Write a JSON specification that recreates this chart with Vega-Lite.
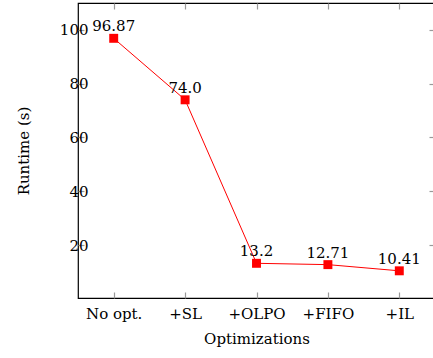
{
  "$schema": "https://vega.github.io/schema/vega-lite/v6.json",
  "autosize": "none",
  "padding": {"left": 78, "top": 3, "right": 0, "bottom": 60},
  "width": 357,
  "height": 295,
  "data": {"values": [
    {"opt": "No opt.", "runtime": 96.87, "label": "96.87"},
    {"opt": "+SL", "runtime": 74.0, "label": "74.0"},
    {"opt": "+OLPO", "runtime": 13.2, "label": "13.2"},
    {"opt": "+FIFO", "runtime": 12.71, "label": "12.71"},
    {"opt": "+IL", "runtime": 10.41, "label": "10.41"}
  ]},
  "config": {
    "view": {"stroke": "black", "strokeWidth": 1.2},
    "font": "DejaVu Serif",
    "axis": {
      "domain": false, "grid": false,
      "labelFont": "DejaVu Serif", "labelFontSize": 15, "labelColor": "black",
      "titleFont": "DejaVu Serif", "titleFontSize": 15, "titleFontWeight": "normal", "titleColor": "black",
      "tickColor": "#999", "tickWidth": 1.2, "tickSize": -6
    }
  },
  "layer": [
    {
      "mark": {"type": "line", "color": "#ff0000", "strokeWidth": 1},
      "encoding": {
        "x": {"field": "opt", "type": "nominal", "sort": null, "scale": {"type": "point", "padding": 0.5},
              "axis": {"orient": "bottom", "labelAngle": 0, "labelPadding": 14, "title": "Optimizations", "titlePadding": 10}},
        "y": {"field": "runtime", "type": "quantitative", "scale": {"domain": [0.3, 110], "nice": false, "zero": false},
              "axis": {"orient": "left", "values": [20, 40, 60, 80, 100], "labelAlign": "right", "labelPadding": -4, "title": "Runtime (s)", "titlePadding": 28}}
      }
    },
    {
      "mark": {"type": "square", "color": "#ff0000", "opacity": 1, "size": 80},
      "encoding": {
        "x": {"field": "opt", "type": "nominal", "sort": null,
              "axis": {"orient": "top", "labels": false, "title": null}},
        "y": {"field": "runtime", "type": "quantitative",
              "axis": {"orient": "right", "values": [20, 40, 60, 80, 100], "labels": false, "title": null}}
      }
    },
    {
      "mark": {"type": "text", "baseline": "bottom", "dy": -4, "fontSize": 15, "font": "DejaVu Serif", "color": "black"},
      "encoding": {
        "x": {"field": "opt", "type": "nominal", "sort": null, "axis": null},
        "y": {"field": "runtime", "type": "quantitative", "axis": null},
        "text": {"field": "label"}
      }
    }
  ],
  "resolve": {"axis": {"x": "independent", "y": "independent"}}
}
